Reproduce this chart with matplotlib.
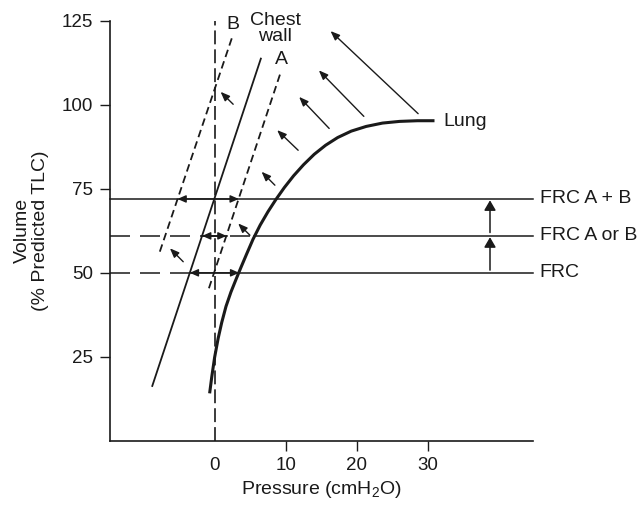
import matplotlib
matplotlib.use("Agg")
import matplotlib.pyplot as plt

plt.rcParams['font.family'] = ['Liberation Sans', 'DejaVu Sans']
plt.rcParams['mathtext.fontset'] = 'custom'
plt.rcParams['mathtext.rm'] = 'Liberation Sans'
plt.rcParams['mathtext.it'] = 'Liberation Sans:italic'
plt.rcParams['lines.scale_dashes'] = False

# ---------------- data ----------------
x_ticks = [0, 10, 20, 30]
y_ticks = [25, 50, 75, 100, 125]

# Lung pressure-volume curve
lung_p = [-0.7, -0.4, 0.0, 0.5, 1.0, 1.6, 2.3, 3.0, 3.7, 4.5, 5.4, 6.4, 7.5, 8.6,
          9.8, 11.1, 12.5, 14.0, 15.6, 17.3, 19.2, 21.3, 23.6, 26.0, 28.5, 30.9]
lung_v = [14.1, 19.0, 24.8, 30.5, 35.2, 40.0, 44.3, 48.0, 51.6, 55.6, 60.0, 64.2, 68.2, 71.8,
          75.4, 78.9, 82.2, 85.3, 88.0, 90.3, 92.2, 93.6, 94.6, 95.1, 95.3, 95.3]

# Chest wall lines (end points)
chest_p = [-8.76, 6.5]
chest_v = [16.3, 113.8]
chestA_p = [-0.8, 9.3]
chestA_v = [45.4, 109.8]
chestB_p = [-7.7, 2.47]
chestB_v = [56.3, 120.2]

# FRC levels
frc_levels = [72, 61, 50]
frc_labels = ['FRC A + B', 'FRC A or B', 'FRC']

# Recoil arrows (tail -> head)
recoil_tail_p = [2.61, -4.41, 4.96, 8.47, 11.74, 16.10, 20.97, 28.6]
recoil_tail_v = [100.2, 53.3, 61.2, 76.1, 86.5, 93.0, 96.6, 97.4]
recoil_head_p = [0.84, -6.28, 3.31, 6.60, 8.79, 11.88, 14.65, 16.29]
recoil_head_v = [103.9, 57.3, 64.7, 80.1, 92.5, 102.4, 110.3, 122.0]

# Double arrows on FRC lines from zero pressure: (level, left end, right end)
dbl_level = [72, 61, 50]
dbl_left = [-5.22, -1.76, -3.49]
dbl_right = [3.4, 1.68, 3.46]

# FRC shift arrows
shift_p = [38.7, 38.7]
shift_from = [50.8, 62.0]
shift_to = [60.6, 71.6]

XMIN, XMAX = -14.7, 44.7
col = '#1a1a1a'
FS = 14

fig = plt.figure(figsize=(6.41, 5.07), dpi=100)
ax = fig.add_axes([110/641, 66.3/507, 422.7/641, 419.7/507])
ax.set_xlim(XMIN, XMAX)
ax.set_ylim(0, 125)

for s in ['top', 'right']:
    ax.spines[s].set_visible(False)
for s in ['left', 'bottom']:
    ax.spines[s].set_color(col)
    ax.spines[s].set_linewidth(1.2)

ax.set_xticks(x_ticks)
ax.set_yticks(y_ticks)
ax.tick_params(direction='out', length=7, width=1, labelsize=13.5, pad=5, colors=col)
ax.xaxis.get_major_ticks()[0].tick1line.set_visible(False)

ax.set_xlabel('Pressure (cmH$_{2}$O)', fontsize=FS, color=col, labelpad=3)
ax.set_ylabel('Volume\n(% Predicted TLC)', fontsize=FS, color=col, labelpad=9, linespacing=1.15)

# vertical zero-pressure dashed line
ax.plot([0, 0], [0, 125], color=col, lw=1.2, dashes=(10, 3.6), clip_on=False)

# FRC horizontal lines
ax.plot([XMIN, XMAX], [frc_levels[0]] * 2, color=col, lw=1.1, clip_on=False)
ax.plot([XMIN, 5.5], [frc_levels[1]] * 2, color=col, lw=1.1, dashes=(14.4, 7.2))
ax.plot([dbl_left[1], dbl_right[1]], [frc_levels[1]] * 2, color=col, lw=1.1)
ax.plot([5.5, XMAX], [frc_levels[1]] * 2, color=col, lw=1.1, clip_on=False)
ax.plot([XMIN, dbl_left[2]], [frc_levels[2]] * 2, color=col, lw=1.1, dashes=(14.4, 7.2))
ax.plot([dbl_left[2], XMAX], [frc_levels[2]] * 2, color=col, lw=1.1, clip_on=False)

for lvl, lab in zip(frc_levels, frc_labels):
    ax.text(XMAX + 1.0, lvl, lab, fontsize=FS, color=col, ha='left', va='center', clip_on=False)

# chest wall lines
ax.plot(chest_p, chest_v, color=col, lw=1.3)
ax.plot(chestA_p, chestA_v, color=col, lw=1.3, dashes=(5.5, 3.2))
ax.plot(chestB_p, chestB_v, color=col, lw=1.3, dashes=(5.5, 3.2))

# lung curve
ax.plot(lung_p, lung_v, color=col, lw=2.2, solid_capstyle='butt', solid_joinstyle='round')

# labels
ax.text(2.5, 124, 'B', fontsize=FS, color=col, ha='center', va='center', clip_on=False)
ax.text(8.5, 122.7, 'Chest\nwall', fontsize=FS, color=col, ha='center', va='center',
        linespacing=0.95, clip_on=False)
ax.text(9.4, 113.6, 'A', fontsize=FS, color=col, ha='center', va='center')
ax.text(32.2, 95.2, 'Lung', fontsize=FS, color=col, ha='left', va='center')

# recoil arrows
for tp, tv, hp, hv in zip(recoil_tail_p, recoil_tail_v, recoil_head_p, recoil_head_v):
    ax.annotate('', xy=(hp, hv), xytext=(tp, tv),
                arrowprops=dict(arrowstyle='-|>,head_length=0.55,head_width=0.22',
                                mutation_scale=10, lw=1.0, color=col,
                                shrinkA=0, shrinkB=0))

# double arrows
for lvl, l, r in zip(dbl_level, dbl_left, dbl_right):
    for end in (l, r):
        ax.annotate('', xy=(end, lvl), xytext=(0, lvl),
                    arrowprops=dict(arrowstyle='-|>,head_length=0.5,head_width=0.22',
                                    mutation_scale=10, lw=1.0, color=col,
                                    shrinkA=0, shrinkB=0))

# FRC shift arrows
for p, f, t in zip(shift_p, shift_from, shift_to):
    ax.annotate('', xy=(p, t), xytext=(p, f),
                arrowprops=dict(arrowstyle='-|>,head_length=0.6,head_width=0.35',
                                mutation_scale=10, lw=1.1, color=col,
                                shrinkA=0, shrinkB=0))

fig.savefig('out.png', dpi=100)
